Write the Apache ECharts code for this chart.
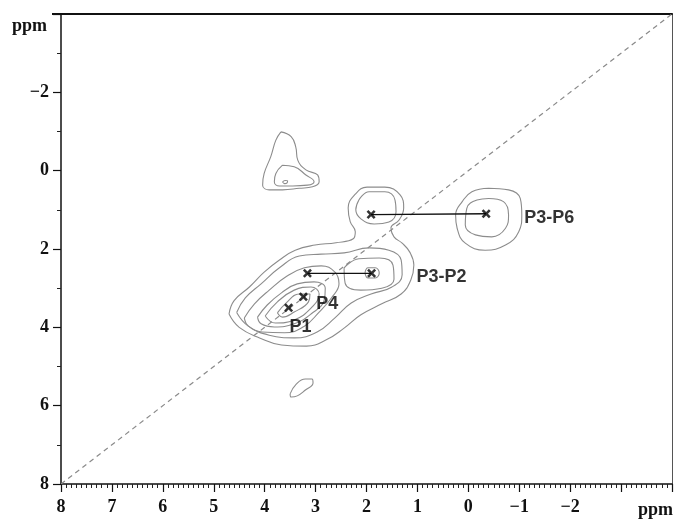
<!DOCTYPE html>
<html>
<head>
<meta charset="utf-8">
<script src="https://cdn.jsdelivr.net/npm/echarts@6/dist/echarts.min.js"></script>
<style>
  html, body { margin: 0; padding: 0; background: #fff; }
  #main { width: 675px; height: 522px; }
</style>
</head>
<body>
<div id="main"></div>
<script>
// 峰位 (F2 ppm, F1 ppm)
var peakX = [3.53, 3.24, 3.16, 1.90, 1.91, -0.35];
var peakY = [3.50, 3.22, 2.62, 2.62, 1.12, 1.10];
var peakLabels = ['P1', 'P4', '', 'P3-P2', '', 'P3-P6'];
// 交叉峰连线 (peak index pairs)
var links = [[2, 3], [4, 5]];

// 轴刻度
var xTicks = [8, 7, 6, 5, 4, 3, 2, 1, 0, -1, -2];
var yTicks = [-2, 0, 2, 4, 6, 8];

// 等高线 (ppm)
var blobTopOuter = [[3.68,-0.99],[3.48,-0.87],[3.39,-0.61],[3.35,-0.27],[3.19,-0.02],[2.96,0.11],[2.93,0.28],[3.06,0.41],[3.32,0.45],[3.65,0.49],[3.91,0.49],[4.04,0.37],[4.01,0.07],[3.88,-0.36],[3.78,-0.78]];
var blobTopInner = [[3.65,-0.14],[3.42,-0.10],[3.19,0.11],[3.03,0.28],[3.16,0.37],[3.45,0.39],[3.71,0.39],[3.81,0.28],[3.78,0.07]];
var blobTopCore = [[3.65,0.29],[3.60,0.25],[3.55,0.26],[3.56,0.31],[3.61,0.33]];

var mainLevel1 = [[4.70,3.66],[4.60,3.32],[4.30,2.97],[4.01,2.59],[3.71,2.28],[3.40,2.03],[3.01,1.90],[2.60,1.84],[2.26,1.74],[2.22,1.56],[2.32,1.30],[2.36,0.95],[2.22,0.60],[1.99,0.42],[1.64,0.42],[1.34,0.62],[1.27,0.95],[1.36,1.26],[1.52,1.46],[1.46,1.69],[1.30,1.85],[1.15,2.08],[1.07,2.41],[1.13,2.79],[1.32,3.15],[1.70,3.40],[2.11,3.68],[2.44,4.02],[2.79,4.32],[3.18,4.48],[3.67,4.45],[4.10,4.27],[4.50,4.00]];
var mainLevel2 = [[4.55,3.62],[4.38,3.25],[4.07,2.89],[3.71,2.48],[3.32,2.18],[2.89,2.13],[2.44,2.10],[1.95,1.97],[1.56,2.03],[1.32,2.28],[1.30,2.66],[1.50,2.97],[1.91,3.15],[2.30,3.38],[2.62,3.76],[2.97,4.12],[3.42,4.27],[3.91,4.20],[4.32,3.97]];
var mainLevel3 = [[4.40,3.76],[4.20,3.40],[3.91,3.05],[3.56,2.69],[3.22,2.48],[2.89,2.43],[2.62,2.59],[2.54,2.89],[2.69,3.25],[2.93,3.61],[3.22,3.97],[3.61,4.14],[4.05,4.12],[4.32,3.97]];
var mainLevel4 = [[4.14,3.74],[3.95,3.43],[3.67,3.12],[3.36,2.89],[3.03,2.84],[2.81,3.00],[2.83,3.30],[3.09,3.66],[3.42,3.91],[3.81,3.99],[4.07,3.91]];
var mainLevel5 = [[3.99,3.71],[3.75,3.35],[3.42,3.05],[3.09,2.97],[2.93,3.15],[3.09,3.51],[3.42,3.81],[3.79,3.89]];
var mainLevel6 = [[3.75,3.63],[3.58,3.38],[3.32,3.15],[3.11,3.15],[3.14,3.35],[3.42,3.61],[3.65,3.74]];
var p2Level = [[2.44,2.48],[2.15,2.25],[1.75,2.23],[1.48,2.41],[1.46,2.77],[1.70,3.00],[2.11,3.05],[2.42,2.87]];
var p2Core = [[2.03,2.61],[1.97,2.48],[1.83,2.48],[1.75,2.61],[1.83,2.74],[1.97,2.74]];
var p3Inner = [[2.15,0.75],[1.95,0.54],[1.64,0.54],[1.44,0.75],[1.42,1.05],[1.56,1.31],[1.85,1.36],[2.11,1.23],[2.21,1.00]];
var p6Outer = [[-0.40,0.45],[-0.79,0.49],[-1.02,0.71],[-1.05,1.13],[-0.99,1.56],[-0.73,1.90],[-0.33,2.03],[0.06,1.85],[0.22,1.47],[0.25,1.13],[0.12,0.79],[-0.07,0.54]];
var p6Inner = [[-0.40,0.71],[-0.69,0.79],[-0.79,1.13],[-0.73,1.47],[-0.46,1.69],[-0.14,1.64],[0.06,1.39],[0.03,0.96],[-0.17,0.75]];
var blobLow = [[3.50,5.70],[3.38,5.45],[3.20,5.32],[3.07,5.32],[3.05,5.42],[3.20,5.60],[3.36,5.75],[3.48,5.78]];

var contours = [blobTopOuter, blobTopInner, blobTopCore, mainLevel1, mainLevel2, mainLevel3,
  mainLevel4, mainLevel5, mainLevel6, p2Level, p2Core, p3Inner, p6Outer, p6Inner, blobLow];

// 标注偏移 (px)
var labelOffset = { 'P1': [12, 19], 'P4': [24, 7], 'P3-P2': [70, 4], 'P3-P6': [63, 4] };

var serif = 'Liberation Serif', sans = 'Liberation Sans';

function fmtTick(list) {
  return function (v) {
    if (list.indexOf(v) < 0) return '';
    return v < 0 ? '\u2212' + (-v) : String(v);
  };
}

var series = [];

// 对角线
series.push({
  type: 'line', data: [[8, 8], [-4, -4]], symbol: 'none', silent: true,
  lineStyle: { color: '#8a8a8a', width: 1.2, type: [5, 4] }, z: 1
});

contours.forEach(function (c) {
  series.push({
    type: 'line', data: c.concat([c[0]]), symbol: 'none', smooth: 0.45, silent: true,
    lineStyle: { color: '#8c8c8c', width: 1.1 }, z: 2
  });
});

links.forEach(function (l) {
  series.push({
    type: 'line', data: [[peakX[l[0]], peakY[l[0]]], [peakX[l[1]], peakY[l[1]]]],
    symbol: 'none', silent: true, lineStyle: { color: '#111', width: 1.3 }, z: 3
  });
});

var peakData = peakX.map(function (x, i) {
  var name = peakLabels[i];
  var d = { value: [x, peakY[i]], name: name };
  if (name) {
    d.label = { show: true, position: 'inside', offset: labelOffset[name], formatter: name,
      fontFamily: sans, fontWeight: 'bold', fontSize: 18, color: '#000',
      textBorderWidth: 0, textBorderColor: 'transparent' };
  }
  return d;
});

series.push({
  type: 'scatter', data: peakData, symbolSize: 9, z: 4, silent: true,
  symbol: 'path://M0,2L2,0L5,3L8,0L10,2L7,5L10,8L8,10L5,7L2,10L0,8L3,5Z',
  itemStyle: { color: '#000' }
});

var chart = echarts.init(document.getElementById('main'), null, { renderer: 'canvas' });
chart.setOption({
  animation: false,
  backgroundColor: '#fff',
  grid: { left: 61, right: 1, top: 14, bottom: 38 },
  xAxis: [{
    type: 'value', min: -4, max: 8, interval: 1, inverse: true,
    axisLine: { onZero: false, lineStyle: { color: '#111', width: 1.5 } },
    axisTick: { length: 8, lineStyle: { color: '#111', width: 1.2 } },
    minorTick: { show: true, splitNumber: 10, length: 4, lineStyle: { color: '#222', width: 1 } },
    splitLine: { show: false },
    axisLabel: { margin: 14, formatter: fmtTick(xTicks), fontFamily: serif, fontWeight: 'bold', fontSize: 18, color: '#111' }
  }, {
    type: 'value', min: -4, max: 8, inverse: true, position: 'top',
    axisLine: { onZero: false, lineStyle: { color: '#111', width: 2 } },
    axisTick: { show: false }, axisLabel: { show: false }, splitLine: { show: false }
  }],
  yAxis: [{
    type: 'value', min: -4, max: 8, interval: 2, inverse: true,
    axisLine: { onZero: false, lineStyle: { color: '#111', width: 1.5 } },
    axisTick: { length: 8, lineStyle: { color: '#111', width: 1.2 } },
    minorTick: { show: true, splitNumber: 2, length: 4, lineStyle: { color: '#222', width: 1 } },
    splitLine: { show: false },
    axisLabel: { margin: 12, formatter: fmtTick(yTicks), fontFamily: serif, fontWeight: 'bold', fontSize: 18, color: '#111' }
  }, {
    type: 'value', min: -4, max: 8, inverse: true, position: 'right',
    axisLine: { onZero: false, lineStyle: { color: '#555', width: 1 } },
    axisTick: { show: false }, axisLabel: { show: false }, splitLine: { show: false }
  }],
  graphic: [
    { type: 'line', shape: { x1: 52, y1: 14, x2: 62, y2: 14 }, style: { stroke: '#111', lineWidth: 2 } },
    { type: 'text', left: 12, top: 17, style: { text: 'ppm', font: 'bold 18px "Liberation Serif"', fill: '#111' } },
    { type: 'text', right: 2, top: 501, style: { text: 'ppm', font: 'bold 18px "Liberation Serif"', fill: '#111' } }
  ],
  series: series
});
</script>
</body>
</html>
